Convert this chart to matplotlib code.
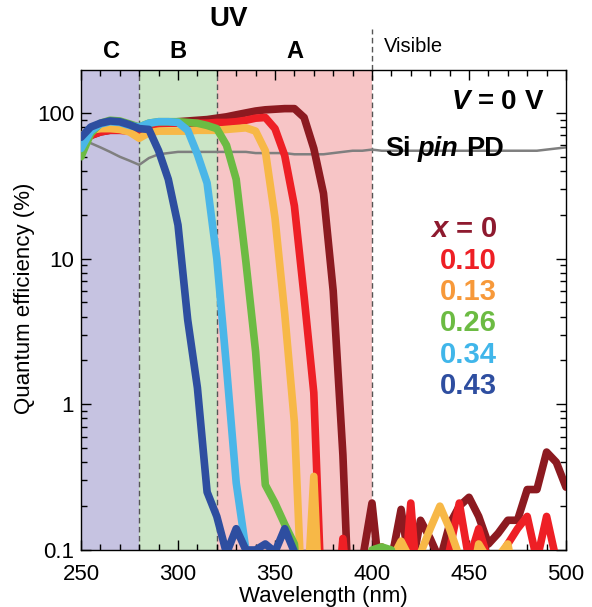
import numpy as np
import matplotlib
matplotlib.use("Agg")
import matplotlib.pyplot as plt
from matplotlib.ticker import FixedLocator, MultipleLocator, LogLocator, NullFormatter, FuncFormatter

plt.rcParams['font.family'] = ['Liberation Sans', 'DejaVu Sans']

# ---------------------------------------------------------------- data
wavelength = np.arange(250, 501, 5)  # nm

qe_x000 = [62, 70, 74, 76, 76, 76, 75, 82, 85, 86, 87, 88, 89, 90, 92, 94, 97, 100,
           103, 105, 106, 107, 107, 93, 57, 28, 6, 0.45, 0.01, 0.085, 0.21, 0.05,
           0.085, 0.19, 0.07, 0.16, 0.12, 0.085, 0.15, 0.2, 0.23, 0.17, 0.11, 0.13,
           0.16, 0.16, 0.26, 0.26, 0.47, 0.40, 0.27]
qe_x010 = [60, 70, 74, 76, 76, 75, 73, 80, 84, 85, 85, 85, 85, 85, 86, 86, 87, 89,
           92, 93, 78, 51, 23, 5.5, 1.2, 0.02, 0.02, 0.12, 0.02, 0.02, 0.05, 0.105,
           0.05, 0.03, 0.21, 0.03, 0.02, 0.05, 0.1, 0.21, 0.085, 0.14, 0.085, 0.085,
           0.11, 0.14, 0.17, 0.085, 0.17, 0.085, 0.02]
qe_x013 = [70, 76, 78, 78, 77, 74, 67, 73, 75, 75, 75, 75, 76, 76, 76, 77, 78, 79,
           75, 55, 19, 4.2, 0.75, 0.02, 0.32, 0.01, 0.01, 0.01, 0.01, 0.01, 0.01,
           0.05, 0.085, 0.115, 0.085, 0.095, 0.14, 0.2, 0.14, 0.09, 0.05, 0.11,
           0.085, 0.09, 0.11, 0.05, 0.01, 0.01, 0.01, 0.01, 0.01]
qe_x026 = [50, 72, 85, 89, 88, 84, 80, 85, 87, 87, 87, 86, 85, 82, 78, 60, 35, 9.5,
           2.3, 0.28, 0.21, 0.15, 0.11, 0.02, 0.01, 0.01, 0.01, 0.01, 0.01, 0.03,
           0.1, 0.105, 0.1, 0.02, 0.01, 0.01, 0.01, 0.01, 0.01, 0.01, 0.01, 0.01,
           0.01, 0.01, 0.01, 0.01, 0.01, 0.01, 0.01, 0.01, 0.01]
qe_x034 = [57, 75, 84, 87, 86, 82, 80, 85, 87, 87, 86, 76, 52, 33, 10, 1.8, 0.29,
           0.1, 0.01, 0.01, 0.01, 0.01, 0.01, 0.01, 0.01, 0.01, 0.01, 0.01, 0.01,
           0.01, 0.01, 0.01, 0.01, 0.01, 0.01, 0.01, 0.01, 0.01, 0.01, 0.01, 0.01,
           0.01, 0.01, 0.01, 0.01, 0.01, 0.01, 0.01, 0.01, 0.01, 0.01]
qe_x043 = [68, 80, 85, 88, 87, 83, 78, 77, 55, 35, 17, 3.8, 1.3, 0.25, 0.17, 0.095,
           0.14, 0.1, 0.1, 0.11, 0.097, 0.14, 0.097, 0.01, 0.01, 0.01, 0.01, 0.01,
           0.01, 0.01, 0.01, 0.01, 0.01, 0.01, 0.01, 0.01, 0.01, 0.01, 0.01, 0.01,
           0.01, 0.01, 0.01, 0.01, 0.01, 0.01, 0.01, 0.01, 0.01, 0.01, 0.01]
qe_si_pin = [66, 62, 58, 54, 50, 47, 44, 49, 52, 53, 54, 54, 54, 54, 54, 54, 54, 54,
             53, 53, 53, 53, 52, 52, 52, 52, 53, 54, 55, 55, 56, 55, 55, 55, 55, 55,
             55, 55, 55, 55, 55, 55, 55, 55, 55, 55, 55, 55, 56, 57, 58]

compositions = ["0", "0.10", "0.13", "0.26", "0.34", "0.43"]
series = [qe_x000, qe_x010, qe_x013, qe_x026, qe_x034, qe_x043]
line_colors = ["#8c1a20", "#ee1f25", "#f7b847", "#6cbb43", "#4ab6e8", "#2e4ea0"]
label_colors = ["#8e1a2f", "#ee1f25", "#f7993a", "#6cbb43", "#40b6ea", "#2e4ea0"]

band_edges = [250, 280, 320, 400]
band_colors = ["#c6c3e1", "#cbe5c6", "#f7c5c6"]
band_names = ["C", "B", "A"]

# ---------------------------------------------------------------- figure
W, H = 592, 607
fig = plt.figure(figsize=(W / 100, H / 100), dpi=100)
ax = fig.add_axes([81 / W, 1 - 550 / H, 485 / W, 480 / H])

for lo, hi, c in zip(band_edges[:-1], band_edges[1:], band_colors):
    ax.axvspan(lo, hi, color=c, lw=0, zorder=0)
for xe in band_edges[1:]:
    ax.axvline(xe, color="#555555", lw=1.0, ls=(0, (4, 2.5)), zorder=1)
# the UV / visible boundary continues above the frame
ax.plot([band_edges[-1]] * 2, [1.0, 1.085], transform=ax.get_xaxis_transform(),
        color="#555555", lw=1.0, ls=(0, (4, 2.5)), clip_on=False, zorder=1)

ax.plot(wavelength, qe_si_pin, color="#7f7f7f", lw=1.8, zorder=2)
for vals, col in zip(series, line_colors):
    ax.plot(wavelength, vals, color=col, lw=5.5, solid_capstyle="round",
            solid_joinstyle="round", zorder=3)

ax.set_yscale("log")
ax.set_xlim(250, 500)
ax.set_ylim(0.1, 197)

ax.xaxis.set_major_locator(MultipleLocator(50))
ax.xaxis.set_minor_locator(MultipleLocator(10))
ax.yaxis.set_major_locator(FixedLocator([0.1, 1, 10, 100]))
ax.yaxis.set_minor_locator(LogLocator(base=10, subs=np.arange(2, 10), numticks=20))
ax.yaxis.set_minor_formatter(NullFormatter())
ax.yaxis.set_major_formatter(FuncFormatter(lambda v, p: f"{v:g}"))

ax.tick_params(which="both", direction="in", top=True, right=True, width=1,
               labelsize=16, colors="black")
ax.tick_params(which="major", length=7)
ax.tick_params(which="minor", length=4)
ax.tick_params(axis="x", pad=10)
ax.tick_params(axis="y", pad=5)
for s in ax.spines.values():
    s.set_linewidth(1.0)

ax.set_xlabel("Wavelength (nm)", fontsize=16, labelpad=1)
ax.set_ylabel("Quantum efficiency (%)", fontsize=16)
ax.yaxis.set_label_coords((35 - 81) / 485, (550 - 298) / 480)

# ---------------------------------------------------------------- annotations
def fx(px):
    return px / W

def fy(py):
    return 1 - py / H

fig.text(fx(229), fy(19), "UV", fontsize=20, fontweight="bold", ha="center", va="center")
for name, cx in zip(band_names, [111, 178, 295]):
    fig.text(fx(cx), fy(52), name, fontsize=17, fontweight="bold", ha="center", va="center")
fig.text(fx(384), fy(46), "Visible", fontsize=14.5, ha="left", va="center")

renderer = fig.canvas.get_renderer()


def text_runs(x_px, y_px, parts, size, color="black", align="left"):
    """Place consecutive bold text runs with individual styles on one line."""
    objs = [fig.text(0, 0, t, fontsize=size, fontweight="bold", fontstyle=st,
                     color=color, ha="left", va="center") for t, st in parts]
    widths = [o.get_window_extent(renderer).width for o in objs]
    gap = size * 100 / 72 * 0.278
    total = sum(widths) + gap * (len(objs) - 1)
    x = x_px if align == "left" else x_px - total
    for o, w in zip(objs, widths):
        o.set_position((fx(x), fy(y_px)))
        x += w + gap


text_runs(543, 102, [("V", "italic"), ("=", "normal"), ("0", "normal"), ("V", "normal")],
          20, align="right")
text_runs(385, 149, [("Si", "normal"), ("pin", "italic"), ("PD", "normal")], 19.5)

label_y = [229, 261, 292, 323, 355, 386]
for comp, col, yy in zip(compositions, label_colors, label_y):
    if comp == "0":
        text_runs(497, yy, [("x", "italic"), ("=", "normal"), ("0", "normal")],
                  21, color=col, align="right")
    else:
        fig.text(fx(497), fy(yy), comp, fontsize=21, fontweight="bold", color=col,
                 ha="right", va="center")

fig.savefig("out.png", dpi=100)
